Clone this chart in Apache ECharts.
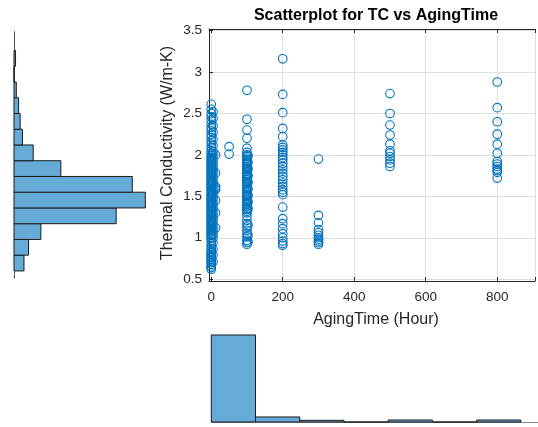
<!DOCTYPE html>
<html><head><meta charset="utf-8">
<script src="https://cdn.jsdelivr.net/npm/echarts@6/dist/echarts.min.js"></script>
<style>html,body{margin:0;padding:0;background:#fff}#c{width:538px;height:427px}</style>
</head><body><div id="c"></div>
<script>
// ---- tick labels ----
const xTickLabels = [0, 200, 400, 600, 800];
const yTickLabels = [0.5, 1, 1.5, 2, 2.5, 3, 3.5];

// ---- scatter values: Thermal Conductivity by AgingTime (hours) ----
const tc_t0 = [2.61,2.55,2.50,2.46,2.42,2.37,2.33,2.29,2.25,2.21,2.17,2.13,2.09,2.05,2.02,1.99,1.97,1.95,1.93,1.91,1.89,1.87,1.85,1.83,1.81,1.79,1.77,1.75,1.73,1.71,1.69,1.67,1.65,1.63,1.61,1.59,1.57,1.55,1.53,1.51,1.49,1.47,1.45,1.43,1.41,1.39,1.37,1.35,1.33,1.31,1.29,1.27,1.25,1.23,1.21,1.19,1.17,1.15,1.13,1.11,1.09,1.07,1.05,1.03,1.01,0.99,0.96,0.93,0.90,0.87,0.84,0.82,0.80,0.78,0.76,0.74,0.72,0.70,0.68,0.66,0.64,0.62];
const tc_t5 = [2.52,2.44,2.35,2.27,2.19,2.11,2.04,2.00,1.96,1.92,1.88,1.84,1.80,1.76,1.72,1.68,1.64,1.60,1.56,1.52,1.48,1.44,1.40,1.36,1.32,1.28,1.24,1.20,1.16,1.12,1.08,1.04,1.00,0.94,0.86,0.79,0.71];
const tc_t12 = [2.00,1.78,1.62,1.60,1.58,1.45,1.30,1.12];
const tc_t50 = [2.10,2.01];
const tc_t100 = [2.78,2.43,2.30,2.20,2.08,2.03,2.00,1.98,1.96,1.94,1.92,1.90,1.88,1.86,1.84,1.82,1.80,1.78,1.76,1.74,1.72,1.70,1.68,1.66,1.64,1.62,1.60,1.58,1.56,1.54,1.52,1.50,1.48,1.46,1.44,1.42,1.40,1.38,1.36,1.34,1.32,1.30,1.26,1.21,1.17,1.13,1.09,1.05,1.01,0.97,0.94,0.92];
const tc_t103 = [1.99,1.91,1.83,1.75,1.67,1.59,1.51,1.43,1.35,1.15,1.03,0.95];
const tc_t200 = [3.16,2.73,2.51,2.32,2.22,2.12,2.09,2.06,2.03,2.00,1.97,1.94,1.90,1.86,1.82,1.78,1.74,1.70,1.66,1.62,1.58,1.55,1.52,1.37,1.23,1.17,1.11,1.05,1.00,0.96,0.93,0.91];
const tc_t300 = [1.95,1.27,1.18,1.10,1.06,1.03,1.00,0.98,0.96,0.94,0.92];
const tc_t500 = [2.74,2.50,2.36,2.24,2.13,2.05,2.02,1.98,1.94,1.90,1.86];
const tc_t800 = [2.88,2.57,2.40,2.25,2.13,2.02,1.92,1.89,1.86,1.83,1.81,1.79,1.72];

// ---- marginal histograms ----
const tcBinEdges = [0.60,0.79,0.98,1.17,1.36,1.55,1.74,1.93,2.12,2.31,2.50,2.69,2.88,3.07,3.26];
const tcCounts   = [13,19,35,133,171,154,61,25,11,8,6,3,0,2];
const timeBinEdges = [0,120,240,360,480,600,720,840];
const timeCounts   = [570,33,11,0,13,0,13];

const FONT = '"Liberation Sans", Arial, Helvetica, sans-serif';
const AX = '#262626';

function pts(t, arr) { return arr.map(v => [t, v]); }
const scatterData = [].concat(
  pts(0, tc_t0), pts(5, tc_t5), pts(12, tc_t12), pts(50, tc_t50),
  pts(100, tc_t100), pts(103, tc_t103), pts(200, tc_t200),
  pts(300, tc_t300), pts(500, tc_t500), pts(800, tc_t800)
);
const tcHistData = tcCounts.map((c, i) => [tcBinEdges[i], tcBinEdges[i+1], c]);
const timeHistData = timeCounts.map((c, i) => [timeBinEdges[i], timeBinEdges[i+1], c]);

const barStyle = { fill: '#66aad7', stroke: '#1a1a1a', lineWidth: 1 };

function fmtFrom(list) {
  return function (v) {
    for (const t of list) if (Math.abs(t - v) < 1e-6) return String(t);
    return '';
  };
}

const chart = echarts.init(document.getElementById('c'), null, { renderer: 'canvas' });
chart.setOption({
  animation: false,
  backgroundColor: '#fff',
  grid: [
    { left: 209, top: 29, width: 336, height: 252 },
    { left: 14, top: 31.7, width: 153.6, height: 246.6 },
    { left: 211.3, top: 330.4, width: 326.7, height: 91.6 }
  ],
  xAxis: [
    { gridIndex: 0, type: 'value', min: -6.2, max: 905.6, position: 'bottom',
      axisLine: { show: true, onZero: false, lineStyle: { color: AX, width: 1 } },
      axisTick: { show: true, inside: true, length: 4, lineStyle: { color: AX } },
      axisLabel: { show: true, formatter: fmtFrom(xTickLabels), color: AX, fontSize: 13.5, fontFamily: FONT, margin: 9 },
      splitLine: { show: true, lineStyle: { color: '#dfdfdf', width: 1 } } },
    { gridIndex: 0, type: 'value', min: -6.2, max: 905.6, position: 'top',
      axisLine: { show: true, onZero: false, lineStyle: { color: AX, width: 1 } },
      axisTick: { show: true, inside: true, length: 4, lineStyle: { color: AX } },
      axisLabel: { show: false }, splitLine: { show: false } },
    { gridIndex: 1, type: 'value', min: 0, max: 200, show: false },
    { gridIndex: 2, type: 'value', min: 0, max: 886.6,
      axisLine: { show: true, onZero: false, lineStyle: { color: '#8c8c8c', width: 1 } },
      axisTick: { show: false }, axisLabel: { show: false }, splitLine: { show: false } }
  ],
  yAxis: [
    { gridIndex: 0, type: 'value', min: 0.4783, max: 3.5196,
      axisLine: { show: true, onZero: false, lineStyle: { color: AX, width: 1 } },
      axisTick: { show: true, inside: true, length: 4, lineStyle: { color: AX } },
      axisLabel: { show: true, formatter: fmtFrom(yTickLabels), color: AX, fontSize: 13.5, fontFamily: FONT, margin: 7 },
      splitLine: { show: true, lineStyle: { color: '#dfdfdf', width: 1 } } },
    { gridIndex: 1, type: 'value', min: 0.511, max: 3.487,
      axisLine: { show: true, onZero: false, lineStyle: { color: '#4d4d4d', width: 1 } },
      axisTick: { show: false }, axisLabel: { show: false }, splitLine: { show: false } },
    { gridIndex: 2, type: 'value', min: 0, max: 600, show: false }
  ],
  series: [
    { type: 'scatter', xAxisIndex: 0, yAxisIndex: 0, data: scatterData,
      symbol: 'circle', symbolSize: 8.6, clip: false,
      itemStyle: { color: 'rgba(0,0,0,0)', borderColor: '#0072BD', borderWidth: 1.1, opacity: 1 },
      emphasis: { disabled: true } },
    { type: 'custom', xAxisIndex: 2, yAxisIndex: 1, data: tcHistData,
      encode: { x: 2, y: [0, 1] },
      renderItem: function (params, api) {
        const p0 = api.coord([0, api.value(0)]);
        const p1 = api.coord([api.value(2), api.value(1)]);
        return { type: 'rect', shape: { x: p0[0], y: p1[1], width: p1[0] - p0[0], height: p0[1] - p1[1] }, style: barStyle };
      } },
    { type: 'custom', xAxisIndex: 3, yAxisIndex: 2, data: timeHistData,
      encode: { x: [0, 1], y: 2 },
      renderItem: function (params, api) {
        const p0 = api.coord([api.value(0), 0]);
        const p1 = api.coord([api.value(1), api.value(2)]);
        return { type: 'rect', shape: { x: p0[0], y: p1[1], width: p1[0] - p0[0], height: p0[1] - p1[1] }, style: barStyle };
      } }
  ],
  graphic: [
    { type: 'text', x: 376, y: 15.5, style: { text: 'Scatterplot for TC vs AgingTime', font: 'bold 16px ' + FONT, fill: '#000', align: 'center', verticalAlign: 'middle' } },
    { type: 'text', x: 376, y: 319.5, style: { text: 'AgingTime (Hour)', font: '16px ' + FONT, fill: AX, align: 'center', verticalAlign: 'middle' } },
    { type: 'text', x: 167.5, y: 153, rotation: Math.PI / 2, style: { text: 'Thermal Conductivity (W/m-K)', font: '16px ' + FONT, fill: AX, align: 'center', verticalAlign: 'middle' } }
  ]
});
</script>
</body></html>
